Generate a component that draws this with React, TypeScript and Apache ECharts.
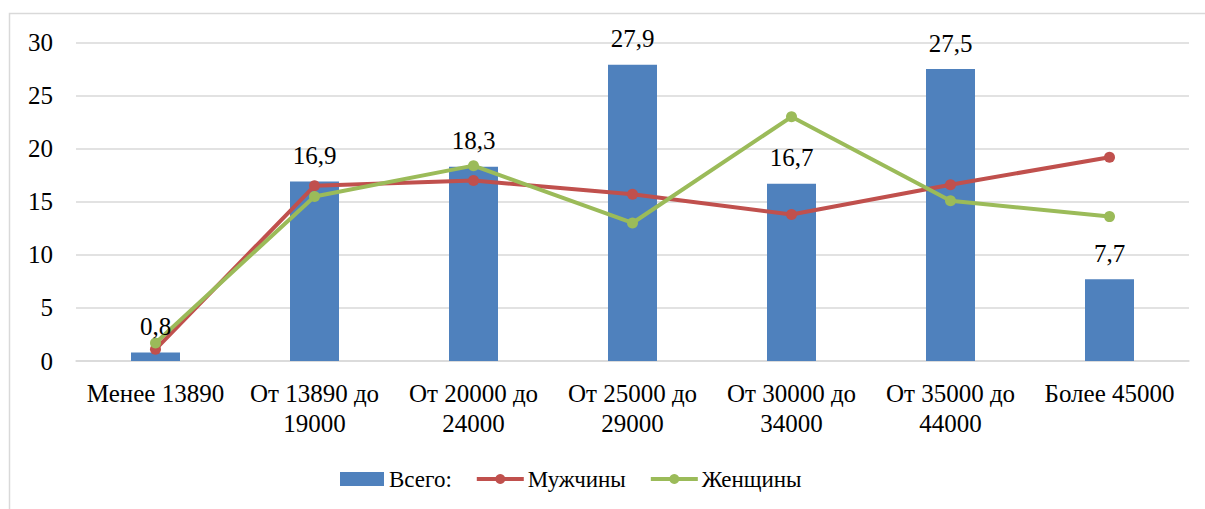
import React, { useEffect, useRef } from "react";
import * as echarts from "echarts";

const categories = [
  "Менее 13890",
  "От 13890 до\n19000",
  "От 20000 до\n24000",
  "От 25000 до\n29000",
  "От 30000 до\n34000",
  "От 35000 до\n44000",
  "Более 45000",
];
const totalValues = [0.8, 16.9, 18.3, 27.9, 16.7, 27.5, 7.7];
const menValues = [1.1, 16.5, 17.0, 15.7, 13.8, 16.6, 19.2];
const womenValues = [1.7, 15.5, 18.4, 13.0, 23.0, 15.1, 13.6];
const seriesNames = ["Всего:", "Мужчины", "Женщины"];
const yTicks = [0, 5, 10, 15, 20, 25, 30];

const FONT = "Liberation Serif";
const FS = 25;
const LEG_FS = 23;
const COLORS = ["#4f81bd", "#c0504d", "#9bbb59"];

function measure(text: string, size: number) {
  const c = document.createElement("canvas").getContext("2d");
  if (!c) return text.length * size * 0.5;
  c.font = size + "px '" + FONT + "', serif";
  return c.measureText(text).width;
}

export default function App() {
  const ref = useRef<HTMLDivElement>(null);
  useEffect(() => {
    if (!ref.current) return;
    const chart = echarts.init(ref.current, null, { renderer: "svg" });
    chart.setOption({
      animation: false,
      backgroundColor: "#ffffff",
      grid: { left: 76, right: 16, top: 42.5, bottom: 148 },
      legend: { show: false, data: seriesNames },
      xAxis: {
        type: "category",
        data: categories,
        axisTick: { show: false },
        axisLine: { lineStyle: { color: "#d9d9d9", width: 1.5 } },
        axisLabel: { show: false },
      },
      yAxis: {
        type: "value",
        min: 0,
        max: 30,
        interval: 5,
        axisLine: { show: false },
        axisTick: { show: false },
        splitLine: { lineStyle: { color: "#d9d9d9", width: 1.5 } },
        axisLabel: { show: false },
      },
      series: [
        {
          name: seriesNames[0],
          type: "bar",
          data: totalValues,
          barWidth: 49,
          itemStyle: { color: COLORS[0] },
        },
        {
          name: seriesNames[1],
          type: "line",
          data: menValues,
          symbol: "circle",
          symbolSize: 11,
          lineStyle: { color: COLORS[1], width: 4 },
          itemStyle: { color: COLORS[1] },
        },
        {
          name: seriesNames[2],
          type: "line",
          data: womenValues,
          symbol: "circle",
          symbolSize: 11,
          lineStyle: { color: COLORS[2], width: 4 },
          itemStyle: { color: COLORS[2] },
        },
      ],
    });

    const txt = (text: string, x: number, y: number, size: number, align: string, vAlign: string, extra: any = {}) => ({
      type: "text",
      x,
      y,
      silent: true,
      z: 100,
      style: {
        text,
        fontFamily: FONT,
        fontSize: size,
        fill: "#000",
        align,
        verticalAlign: vAlign,
        ...extra,
      },
    });

    const g: any[] = [
      {
        type: "rect",
        shape: { x: 9.5, y: 13.5, width: 1200, height: 500 },
        style: { fill: "none", stroke: "#d9d9d9", lineWidth: 1.5 },
        silent: true,
      },
    ];

    const y0 = chart.convertToPixel({ yAxisIndex: 0 }, 0) as number;
    yTicks.forEach((v) => {
      const py = chart.convertToPixel({ yAxisIndex: 0 }, v) as number;
      g.push(txt(String(v), 53, py, FS, "right", "middle"));
    });
    categories.forEach((c, i) => {
      const px = chart.convertToPixel({ xAxisIndex: 0 }, i) as number;
      g.push(txt(c, px, y0 + 17, FS, "center", "top", { lineHeight: 30 }));
    });
    totalValues.forEach((v, i) => {
      const p = chart.convertToPixel({ gridIndex: 0 }, [i, v]) as number[];
      g.push(txt(String(v).replace(".", ","), p[0], p[1] - 26, FS, "center", "middle"));
    });

    // legend
    const ly = 479;
    let lx = 340;
    seriesNames.forEach((name, i) => {
      if (i === 0) {
        g.push({
          type: "rect",
          silent: true,
          shape: { x: lx, y: ly - 7, width: 44, height: 14 },
          style: { fill: COLORS[0] },
        });
        lx += 44 + 5;
      } else {
        g.push({
          type: "line",
          silent: true,
          shape: { x1: lx, y1: ly, x2: lx + 47, y2: ly },
          style: { stroke: COLORS[i], lineWidth: 4 },
        });
        g.push({
          type: "circle",
          silent: true,
          shape: { cx: lx + 23.5, cy: ly, r: 5 },
          style: { fill: COLORS[i] },
        });
        lx += 47 + 4;
      }
      g.push(txt(name, lx, ly, LEG_FS, "left", "middle"));
      lx += measure(name, LEG_FS) + 25;
    });

    chart.setOption({ graphic: g });
    return () => chart.dispose();
  }, []);
  return (
    <div
      ref={ref}
      style={{ position: "fixed", left: 0, top: 0, width: 1205, height: 509 }}
    />
  );
}
